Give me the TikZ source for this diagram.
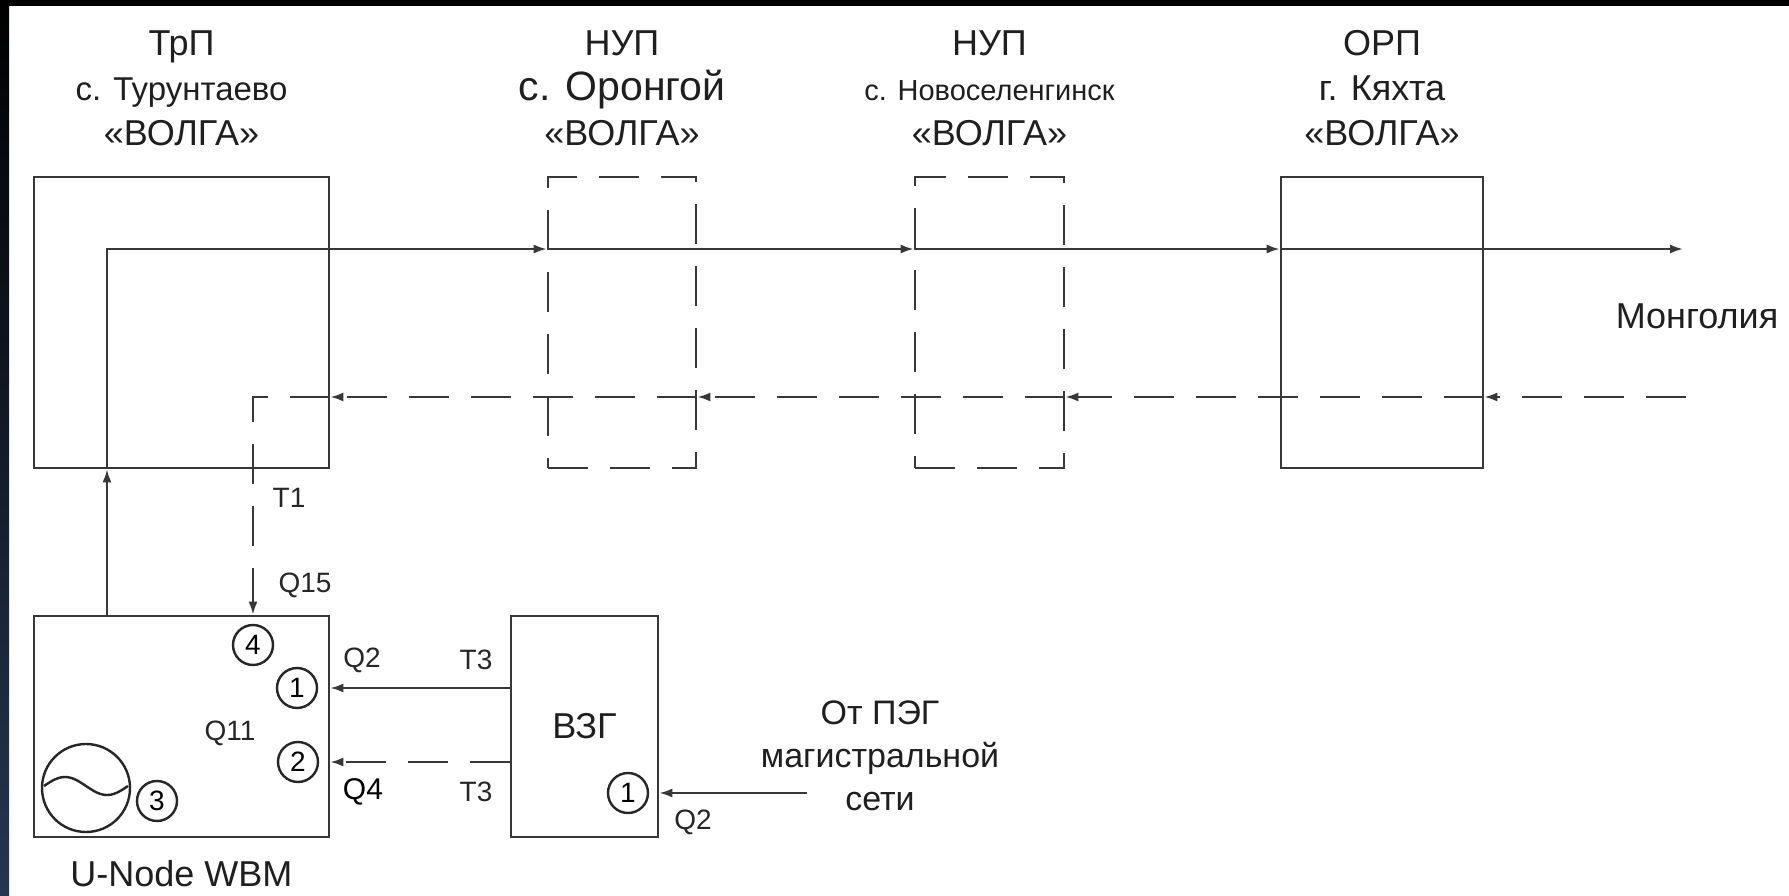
\documentclass[tikz,border=0pt]{standalone}
\usepackage{fontspec}
\setmainfont{Liberation Sans}
\usetikzlibrary{arrows.meta, positioning, calc}

\tikzset{
    blk/.style={draw=black!78, line width=2.6pt, inner sep=0pt},
    dblk/.style={blk, dash pattern=on 40pt off 22pt},
    sig/.style={draw=black!78, line width=2.2pt, -{Latex[length=13pt, width=9pt]}},
    dsig/.style={sig, dash pattern=on 40pt off 22pt},
    port/.style={draw=black!85, circle, line width=2.4pt, minimum size=40pt, inner sep=0pt, font=\fontsize{28}{28}\selectfont},
    stn/.style={align=center, inner sep=0pt, text=black!88, font=\fontsize{36}{45}\selectfont},
    qlbl/.style={inner sep=0pt, text=black!85, font=\fontsize{28}{28}\selectfont},
}

\begin{document}
\begin{tikzpicture}[x=1pt, y=-1pt]
    \useasboundingbox (0,0) rectangle (1789,896);
    \fill[white] (0,0) rectangle (1789,896);
    \fill[black] (0,0) rectangle (1789,6);
    \shade[top color=black, bottom color={rgb,255:red,38;green,54;blue,80}] (0,0) rectangle (9,896);

    % stations on the line
    \node[blk, minimum width=295pt, minimum height=291pt] (trp) at (181.5,322.5) {};
    \node[dblk, minimum width=148pt, minimum height=291pt] (nupa) at (622,322.5) {};
    \node[dblk, minimum width=149pt, minimum height=291pt] (nupb) at (989.5,322.5) {};
    \node[blk, minimum width=202pt, minimum height=291pt] (orp) at (1382,322.5) {};

    \node[stn, above=30pt of trp] (trpname) {ТрП\\{\fontsize{33}{45}\selectfont с. Турунтаево}\\«ВОЛГА»};
    \node[stn, above=30pt of nupa] (nupaname) {НУП\\{\fontsize{41}{45}\selectfont с. Оронгой}\\«ВОЛГА»};
    \node[stn, above=30pt of nupb] (nupbname) {НУП\\{\fontsize{29}{45}\selectfont с. Новоселенгинск}\\«ВОЛГА»};
    \node[stn, above=30pt of orp] (orpname) {ОРП\\г. Кяхта\\«ВОЛГА»};
    \node[stn] (mong) at (1697,316) {Монголия};

    % equipment at TrP
    \node[blk, minimum width=295pt, minimum height=221pt] (unode) at (181.5,726.5) {};
    \node[stn, below=22pt of unode] (unodename) {U-Node WBM};
    \node[blk, minimum width=147pt, minimum height=221pt, text=black!88, font=\fontsize{36}{36}\selectfont] (vzg) at (584.5,726.5) {ВЗГ};

    \node[port] (p4) at (253,645) {4};
    \node[port] (p1) at (297,688) {1};
    \node[port] (p2) at (298,762) {2};
    \node[port] (p3) at (157,801) {3};
    \node[port] (vp1) at (628,793) {1};
    \node[draw=black!85, circle, line width=2.4pt, minimum size=88pt] (gen) at (86,788) {};
    \draw[black!85, line width=2.4pt, domain=-42:42, samples=40] plot ({86+\x}, {786+9*sin(4.286*\x)});

    \node[qlbl] (t1) at (289,498) {T1};
    \node[qlbl] (q15) at (305,585) {Q15};
    \node[qlbl] (q2a) at (362,660) {Q2};
    \node[qlbl] (t3a) at (476,660) {T3};
    \node[qlbl] (q11) at (230,733) {Q11};
    \node[qlbl, text=black, font=\fontsize{30}{30}\selectfont] (q4) at (363,792) {Q4};
    \node[qlbl] (t3b) at (476,792) {T3};
    \node[qlbl] (q2b) at (693,822) {Q2};
    \node[stn, font=\fontsize{34}{43}\selectfont] (pegname) at (880,756) {От ПЭГ\\магистральной\\сети};

    % forward path
    \coordinate (tx) at (107,249);
    \coordinate (txend) at (1683,249);
    \draw[sig] (unode.north -| tx) -- (trp.south -| tx);
    \draw[sig] (trp.south -| tx) -- (tx) -- (nupa.west |- tx);
    \draw[sig] (nupa.west |- tx) -- (nupb.west |- tx);
    \draw[sig] (nupb.west |- tx) -- (orp.west |- tx);
    \draw[sig] (orp.west |- tx) -- (txend);

    % return path
    \coordinate (rx) at (1686,397);
    \coordinate (rxc) at (253,397);
    \draw[dsig] (rx) -- (orp.east |- rx);
    \draw[dsig] (orp.east |- rx) -- (nupb.east |- rx);
    \draw[dsig] (nupb.east |- rx) -- (nupa.east |- rx);
    \draw[dsig] (nupa.east |- rx) -- (trp.east |- rx);
    \draw[dsig] (trp.east |- rx) -- (rxc) -- (p4.north |- unode.north);

    % clock
    \coordinate (peg) at (807,793);
    \draw[sig] (vzg.west |- p1) -- (unode.east |- p1);
    \draw[dsig] (vzg.west |- p2) -- (unode.east |- p2);
    \draw[sig] (peg) -- (vzg.east |- vp1);
\end{tikzpicture}
\end{document}
